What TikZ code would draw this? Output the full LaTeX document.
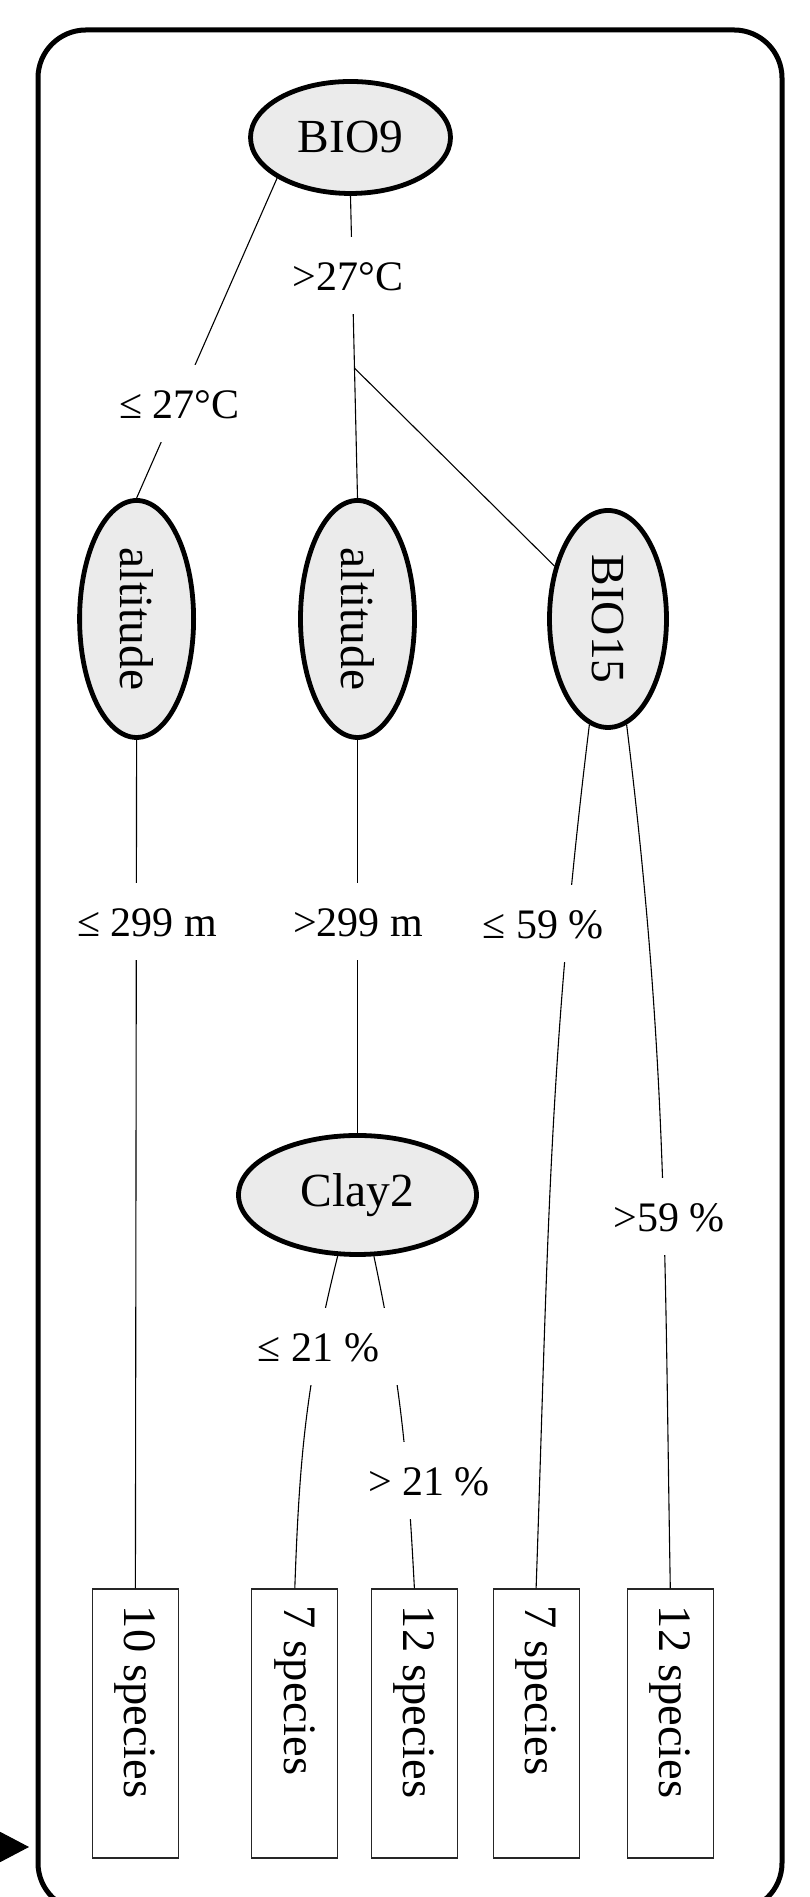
\documentclass[tikz,border=0pt]{standalone}
\usepackage{fontspec}
\setmainfont{Liberation Serif}
\usetikzlibrary{shapes.geometric,arrows.meta,calc}

\definecolor{nodegray}{RGB}{235,235,235}
\newcommand{\nodefnt}{\fontsize{47.5pt}{50pt}\selectfont}
\newcommand{\leaffnt}{\fontsize{46.5pt}{49pt}\selectfont}
\newcommand{\condfnt}{\fontsize{42pt}{45pt}\selectfont}

\tikzset{
  split/.style={ellipse, draw, line width=4.8pt, fill=nodegray, inner sep=0pt, font=\nodefnt},
  leaf/.style={rectangle, draw=black!85, line width=1.2pt, fill=white, inner sep=0pt,
               minimum width=86pt, minimum height=269pt, text height=17pt, text depth=252pt,
               font=\leaffnt},
  cond/.style={fill=white, inner xsep=20pt, inner ysep=0pt, minimum height=77pt,
               text height=28.5pt, text depth=0pt, font=\condfnt},
  link/.style={line width=1.1pt}
}

\begin{document}
\begin{tikzpicture}[x=1pt,y=1pt]
\useasboundingbox (0,0) rectangle (809,1897);
\clip (0,0) rectangle (809,1897);

% cluster frame and incoming arrow
\node[draw, line width=5pt, rounded corners=48pt, minimum width=744pt,
      minimum height=1881pt, inner sep=0pt] (cluster) at (410,926.5) {};
\coordinate (ext) at (-80,50);
\draw[line width=1pt, -{Triangle[length=44pt,width=46pt]}, shorten >=6.5pt]
  (ext) -- (ext -| cluster.west);

% split nodes
\node[split, minimum width=200pt, minimum height=112pt] (bio9) at (350.5,1759.5) {BIO9};
\node[split, minimum width=114pt, minimum height=237pt] (alt1) at (136.6,1278) {\rotatebox{-90}{altitude}};
\node[split, minimum width=114pt, minimum height=237pt] (alt2) at (357.5,1278) {\rotatebox{-90}{altitude}};
\node[split, minimum width=117pt, minimum height=217pt] (bio15) at (608,1278) {\rotatebox{-90}{BIO15}};
\node[split, minimum width=238pt, minimum height=119pt] (clay2) at (357.5,702) {Clay2};

% leaves
\node[leaf] (box1) at (135.4,173.5) {\rotatebox{-90}{10 species}};
\node[leaf] (box2) at (294.8,173.5) {\rotatebox{-90}{7 species}};
\node[leaf] (box3) at (414.4,173.5) {\rotatebox{-90}{12 species}};
\node[leaf] (box4) at (536.1,173.5) {\rotatebox{-90}{7 species}};
\node[leaf] (box5) at (670.3,173.5) {\rotatebox{-90}{12 species}};

% edges
\draw[link] (bio9.209) -- (alt1.north);
\draw[link] (bio9.south) -- (alt2.north);
\coordinate (br) at ($(bio9.south)!0.57!(alt2.north)$);
\draw[link] (br) -- (bio15);
\draw[link] (alt1.south) -- (box1.north);
\draw[link] (alt2.south) -- (clay2.north);
\draw[link] (bio15.260) to[out=263,in=88] (box4.north);
\draw[link] (bio15.280) to[out=277,in=91] (box5.north);
\draw[link] (clay2.252) to[out=256,in=88] (box2.north);
\draw[link] (clay2.285) to[out=282,in=93] (box3.north);

% split conditions
\node[cond] (c1) at (179.5,1493) {≤ 27°C};
\node[cond] (c2) at (348,1621) {>27°C};
\node[cond] (c3) at (147,975) {≤ 299 m};
\node[cond] (c4) at (358,975) {>299 m};
\node[cond] (c5) at (543,973) {≤ 59 \%};
\node[cond] (c6) at (669,680) {>59 \%};
\node[cond] (c7) at (318.5,550) {≤ 21 \%};
\node[cond] (c8) at (429,416) {> 21 \%};
\end{tikzpicture}
\end{document}
